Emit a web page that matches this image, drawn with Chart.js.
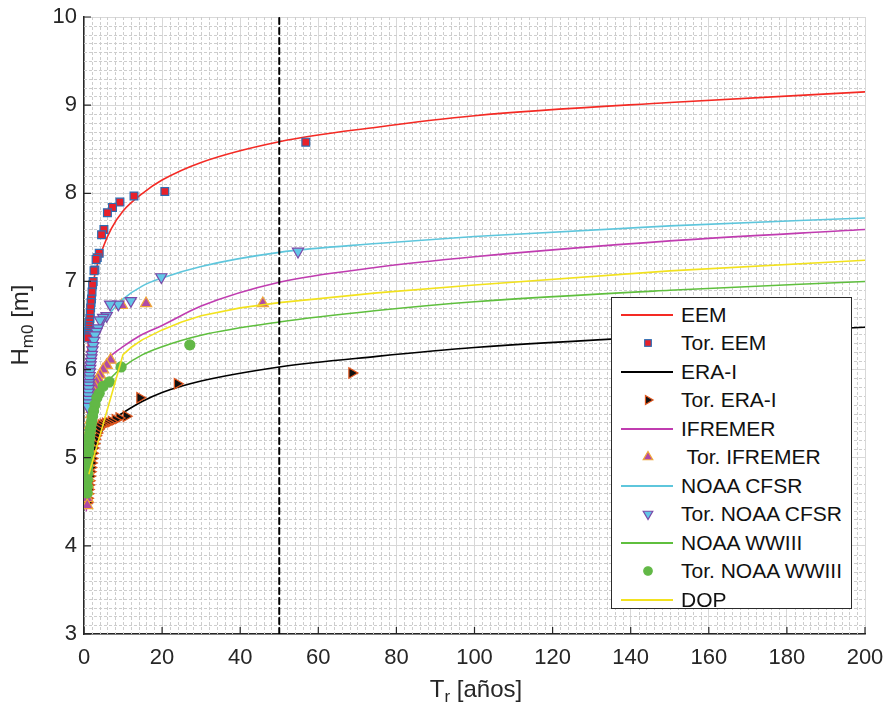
<!DOCTYPE html>
<html><head><meta charset="utf-8">
<script src="https://cdn.jsdelivr.net/npm/chart.js@4.4.1/dist/chart.umd.min.js"></script>
<style>
html,body{margin:0;padding:0;background:#fff;}
#wrap{position:relative;width:890px;height:713px;overflow:hidden;font-family:"Liberation Sans",Arial,Helvetica,sans-serif;color:#262626;background:#fff}
#c{position:absolute;left:0;top:0}
#legend{position:absolute;left:611px;top:297px;width:241px;height:312px;background:#fff;border:1px solid #2b2b2b;box-sizing:border-box;}
.row{position:absolute;left:0;height:28px;width:100%;}
.row svg{position:absolute;left:9px;top:0}
.row span{position:absolute;left:69px;top:0;line-height:28px;font-size:21px;color:#111;white-space:pre}
#xtitle{position:absolute;left:376px;top:677px;width:200px;height:24px;text-align:center;font-size:24px;line-height:24px;white-space:nowrap}
#ytitle{position:absolute;left:-79.7px;top:312.5px;width:200px;height:24px;line-height:24px;text-align:center;font-size:24px;transform:rotate(-90deg);transform-origin:50% 50%;white-space:nowrap}
sub{font-size:17px;vertical-align:-5px;line-height:0}
</style></head>
<body>
<div id="wrap">
<canvas id="c" width="890" height="713"></canvas>
<div id="legend"></div>
<div id="xtitle">T<sub>r</sub> [años]</div>
<div id="ytitle">H<sub>m0</sub> [m]</div>
</div>
<script>
// ---------- DATA ----------
const xTicks = [0,20,40,60,80,100,120,140,160,180,200];
const yTicks = [3,4,5,6,7,8,9,10];
const referenceTr = 50;

// fitted curves (Tr in years)
const trCurve = [0.6, 1, 1.5, 2, 3, 5, 7, 10, 15, 20, 30, 50, 75, 100, 150, 200];
const eemCurve    = [5.6, 6.2, 6.62, 6.88, 7.12, 7.4, 7.6, 7.8, 8.0, 8.15, 8.35, 8.585, 8.75, 8.88, 9.03, 9.15];
const eraCurve    = [4.45, 4.64, 4.86, 5.0, 5.17, 5.33, 5.42, 5.51, 5.64, 5.74, 5.87, 6.03, 6.15, 6.25, 6.38, 6.48];
const ifremerCurve= [4.4, 5.0, 5.4, 5.6, 5.86, 6.06, 6.16, 6.26, 6.4, 6.5, 6.72, 6.99, 7.16, 7.28, 7.46, 7.59];
const cfsrCurve   = [5.0, 5.55, 5.9, 6.08, 6.3, 6.52, 6.66, 6.8, 6.95, 7.04, 7.17, 7.33, 7.43, 7.51, 7.63, 7.72];
const wwiiiCurve  = [4.55, 5.0, 5.3, 5.45, 5.63, 5.8, 5.91, 6.03, 6.17, 6.26, 6.39, 6.54, 6.67, 6.77, 6.9, 7.0];
const trDop  = [1.3, 10, 12, 15, 20, 25, 30, 40, 50, 75, 100, 150, 200];
const dopCurve = [4.82, 6.17, 6.25, 6.34, 6.45, 6.54, 6.61, 6.70, 6.76, 6.87, 6.96, 7.12, 7.24];

// empirical points
const eemTr = [56.8,20.7,12.8,9.2,7.3,6.0,5.1,4.5,3.9,3.4,3.1,2.8,2.56,2.35,2.2,2.05,1.92,1.8,1.7,1.6,1.52,1.44,1.37,1.3,1.24,1.18,1.13,1.08,1.04];
const eemH  = [8.58,8.02,7.97,7.90,7.84,7.78,7.59,7.53,7.32,7.27,7.25,7.13,7.12,7.00,6.96,6.88,6.80,6.76,6.70,6.64,6.58,6.54,6.50,6.47,6.44,6.42,6.40,6.38,6.36];
const eraTr = [68.6,23.9,14.3,10.8,9.0,8.0,7.0,6.2,5.5,4.9,4.4,4.0,3.6,3.3,3.0,2.75,2.55,2.37,2.2,2.05,1.9,1.75,1.6,1.45,1.32,1.2,1.1,1.0,0.9,0.8];
const eraH  = [5.96,5.84,5.68,5.47,5.45,5.43,5.41,5.40,5.39,5.38,5.37,5.35,5.32,5.28,5.25,5.21,5.16,5.11,5.05,4.99,4.94,4.89,4.84,4.79,4.74,4.69,4.64,4.59,4.54,4.49];
const ifrTr = [45.8,15.9,9.7,6.8,5.8,4.9,4.1,3.6,3.2,2.85,2.6,2.35,2.15,2.0,1.85,1.72,1.6,1.5,1.4,1.31,1.23,1.16,1.1,1.04,0.99,0.94,0.9,0.86,0.82];
const ifrH  = [6.75,6.75,6.73,6.11,6.05,6.00,5.94,5.90,5.86,5.80,5.74,5.67,5.61,5.55,5.49,5.43,5.37,5.31,5.24,5.17,5.10,5.02,4.94,4.86,4.78,4.70,4.62,4.54,4.46];
const cfsTr = [54.8,19.8,12.0,8.8,6.7,5.8,4.9,4.1,3.6,3.2,2.8,2.55,2.35,2.17,2.02,1.89,1.77,1.67,1.58,1.5,1.42,1.35,1.29,1.23,1.18,1.13,1.08,1.04,1.0,0.96];
const cfsH  = [7.34,7.05,6.78,6.74,6.74,6.61,6.59,6.56,6.47,6.43,6.39,6.33,6.27,6.22,6.17,6.13,6.09,6.05,6.01,5.97,5.93,5.89,5.85,5.82,5.78,5.74,5.70,5.66,5.62,5.58];
const wwTr  = [27.1,9.5,6.5,4.9,3.9,3.3,2.8,2.45,2.2,2.0,1.82,1.68,1.56,1.46,1.37,1.29,1.22,1.15,1.1,1.04,0.99,0.95,0.91,0.87,0.84,0.81];
const wwH   = [6.28,6.03,5.86,5.81,5.73,5.68,5.60,5.53,5.47,5.42,5.37,5.33,5.30,5.26,5.22,5.18,5.14,5.10,5.05,5.00,4.95,4.89,4.82,4.75,4.67,4.60];

// ---------- BUILD ----------
const pts = (xs, ys) => xs.map((x, i) => ({x, y: ys[i]}));
const FONT = '"Liberation Sans", Arial, Helvetica, sans-serif';

function curve(label, xs, ys, color, mono=true){
  return {label, data: pts(xs, ys), showLine:true, borderColor:color, backgroundColor:color,
    borderWidth:1.6, pointRadius:0, cubicInterpolationMode: mono ? 'monotone' : 'default', tension:0, kind:'line'};
}
function marks(label, xs, ys, style, rot, r, fill, edge){
  return {label, data: pts(xs, ys), showLine:false, pointStyle:style, pointRotation:rot, pointRadius:r,
    pointBackgroundColor:fill, pointBorderColor:edge, pointBorderWidth:1.2, backgroundColor:fill, borderColor:edge, kind:'marker'};
}
const series = [
  curve('EEM', trCurve, eemCurve, '#f42a24'),
  marks('Tor. EEM', eemTr, eemH, 'rect', 0, 5.5, '#e8202a', '#2d6db4'),
  curve('ERA-I', trCurve, eraCurve, '#000000'),
  marks('Tor. ERA-I', eraTr, eraH, 'triangle', 90, 6, '#111111', '#e0561e'),
  curve('IFREMER', trCurve, ifremerCurve, '#c03cb0'),
  marks(' Tor. IFREMER', ifrTr, ifrH, 'triangle', 0, 6.5, '#b04aa6', '#f0a838'),
  curve('NOAA CFSR', trCurve, cfsrCurve, '#5ec6dc'),
  marks('Tor. NOAA CFSR', cfsTr, cfsH, 'triangle', 180, 6.5, '#62c6e6', '#7a48a8'),
  curve('NOAA WWIII', trCurve, wwiiiCurve, '#5fbf3e'),
  marks('Tor. NOAA WWIII', wwTr, wwH, 'circle', 0, 5, '#62b846', '#62b846'),
  curve('DOP', trDop, dopCurve, '#f2e21e', false)
];
const N = series.length;
series.forEach((d, i) => d.order = N - i + 1);
const refLine = {label:'ref', data:[{x:referenceTr, y:yTicks[0]}, {x:referenceTr, y:yTicks[yTicks.length-1]}],
  showLine:true, borderColor:'#000', borderWidth:2, borderDash:[6,4], pointRadius:0, order:0, kind:'ref'};

// minor grid + inward ticks
const minorGrid = {
  id:'minorGrid',
  beforeDatasetsDraw(chart){
    const {ctx, chartArea:a, scales:{x, y}} = chart;
    ctx.save();
    ctx.strokeStyle = '#cdcdcd'; ctx.lineWidth = 1; ctx.setLineDash([3,2]);
    ctx.beginPath();
    for (let v = 2; v < 200; v += 2){ if (v % 20 === 0) continue;
      const px = Math.round(x.getPixelForValue(v)) + 0.5; ctx.moveTo(px, a.top); ctx.lineTo(px, a.bottom); }
    for (let k = 31; k < 100; k++){ if (k % 10 === 0) continue;
      const py = Math.round(y.getPixelForValue(k/10)) + 0.5; ctx.moveTo(a.left, py); ctx.lineTo(a.right, py); }
    ctx.stroke(); ctx.restore();
  },
  afterDraw(chart){
    const {ctx, chartArea:a, scales:{x, y}} = chart;
    ctx.save(); ctx.strokeStyle = '#262626'; ctx.lineWidth = 1.2; ctx.beginPath();
    xTicks.forEach(v => { const px = x.getPixelForValue(v); ctx.moveTo(px, a.bottom); ctx.lineTo(px, a.bottom - 7); });
    yTicks.forEach(v => { const py = y.getPixelForValue(v); ctx.moveTo(a.left, py); ctx.lineTo(a.left + 7, py); });
    ctx.stroke(); ctx.restore();
  }
};

new Chart(document.getElementById('c'), {
  type:'scatter',
  data:{datasets:[...series, refLine]},
  options:{
    responsive:false, animation:false, devicePixelRatio:1,
    layout:{padding:{left:0, right:25, top:17, bottom:0}},
    plugins:{legend:{display:false}, tooltip:{enabled:false}},
    elements:{line:{borderCapStyle:'round', borderJoinStyle:'round'}},
    scales:{
      x:{type:'linear', min:xTicks[0], max:xTicks[xTicks.length-1],
         afterFit:s => { s.height = 79; s.paddingLeft = 0; s.paddingRight = 0; },
         afterBuildTicks:s => { s.ticks = xTicks.map(v => ({value:v})); },
         ticks:{font:{size:22, family:FONT}, color:'#262626', padding:11, maxRotation:0, autoSkip:false},
         grid:{color:'#d8d8d8', lineWidth:1, drawTicks:false},
         border:{color:'#262626', width:1.5}},
      y:{type:'linear', min:yTicks[0], max:yTicks[yTicks.length-1],
         afterFit:s => { s.width = 84; s.paddingTop = 0; s.paddingBottom = 0; },
         afterBuildTicks:s => { s.ticks = yTicks.map(v => ({value:v})); },
         ticks:{font:{size:22, family:FONT}, color:'#262626', padding:7},
         grid:{color:'#d8d8d8', lineWidth:1, drawTicks:false},
         border:{color:'#262626', width:1.5}}
    }
  },
  plugins:[minorGrid]
});

// ---------- HTML legend built from the datasets ----------
const NS = 'http://www.w3.org/2000/svg';
const leg = document.getElementById('legend');
series.forEach((d, i) => {
  const row = document.createElement('div'); row.className = 'row';
  row.style.top = (17 + 28.45 * i - 14) + 'px';
  const svg = document.createElementNS(NS, 'svg'); svg.setAttribute('width', 54); svg.setAttribute('height', 28);
  let el;
  if (d.kind === 'line'){
    el = document.createElementNS(NS, 'line');
    el.setAttribute('x1', 0); el.setAttribute('x2', 52); el.setAttribute('y1', 14); el.setAttribute('y2', 14);
    el.setAttribute('stroke', d.borderColor); el.setAttribute('stroke-width', 1.8);
  } else {
    const cx = 27, cy = 14, r = d.pointRadius * 0.85;
    if (d.pointStyle === 'circle'){
      el = document.createElementNS(NS, 'circle'); el.setAttribute('cx', cx); el.setAttribute('cy', cy); el.setAttribute('r', r);
    } else if (d.pointStyle === 'rect'){
      const s = r * Math.SQRT2;
      el = document.createElementNS(NS, 'rect'); el.setAttribute('x', cx - s/2); el.setAttribute('y', cy - s/2);
      el.setAttribute('width', s); el.setAttribute('height', s);
    } else {
      const p = [0, 120, 240].map(a => { const t = (a + d.pointRotation) * Math.PI / 180;
        return (cx + Math.sin(t) * r).toFixed(2) + ',' + (cy - Math.cos(t) * r).toFixed(2); });
      el = document.createElementNS(NS, 'polygon'); el.setAttribute('points', p.join(' '));
    }
    el.setAttribute('fill', d.pointBackgroundColor); el.setAttribute('stroke', d.pointBorderColor); el.setAttribute('stroke-width', 1.2);
  }
  svg.appendChild(el); row.appendChild(svg);
  const sp = document.createElement('span'); sp.textContent = d.label; row.appendChild(sp);
  leg.appendChild(row);
});
</script>
</body></html>
